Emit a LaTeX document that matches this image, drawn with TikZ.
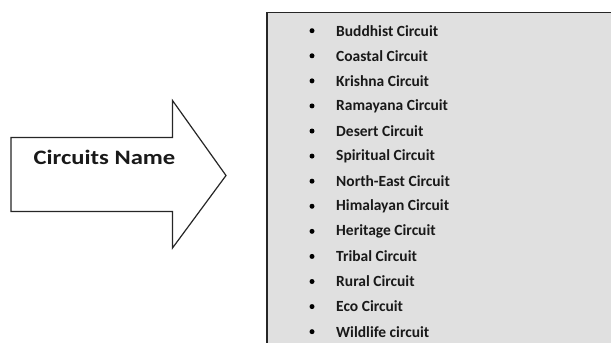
\documentclass[tikz,border=0pt]{standalone}
\usepackage{fontspec}
\setmainfont{Carlito}
\begin{document}
\begin{tikzpicture}[x=1pt,y=-1pt,
  arrowshape/.style={draw=black!85,line width=1.2pt,fill=white,line join=miter},
  listbox/.style={draw=black!85,line width=1.8pt,fill=black!12},
  item/.style={anchor=west,font=\bfseries\fontsize{15.5}{17}\selectfont,inner sep=0pt,text=black!90},
  bul/.style={circle,fill=black,inner sep=0pt,minimum size=5pt},
  title/.style={font=\bfseries\fontsize{20.5}{22}\selectfont,text=black!90}]
\useasboundingbox (0,0) rectangle (611,343);
\begin{scope}
\clip (0,0) rectangle (611,343);
\draw[listbox] (267,12.5) rectangle (640,370);
\end{scope}
\draw[arrowshape] (11,137.5) -- (172.5,137.5) -- (172.5,100.5) -- (226,175.5) -- (172.5,248) -- (172.5,211.5) -- (11,211.5) -- cycle;
\node[title] (t) at (104.5,157) {\scalebox{1.2}[1]{Circuits Name}};
\foreach \i/\txt in {0/Buddhist Circuit,1/Coastal Circuit,2/Krishna Circuit,3/Ramayana Circuit,4/Desert Circuit,5/Spiritual Circuit,6/North-East Circuit,7/Himalayan Circuit,8/Heritage Circuit,9/Tribal Circuit,10/Rural Circuit,11/Eco Circuit,12/Wildlife circuit}{
  \node[bul] (b\i) at (312,{30.7+25.08*\i}) {};
  \node[item] (n\i) at (336,{30.7+25.08*\i}) {\txt};
}
\end{tikzpicture}
\end{document}
